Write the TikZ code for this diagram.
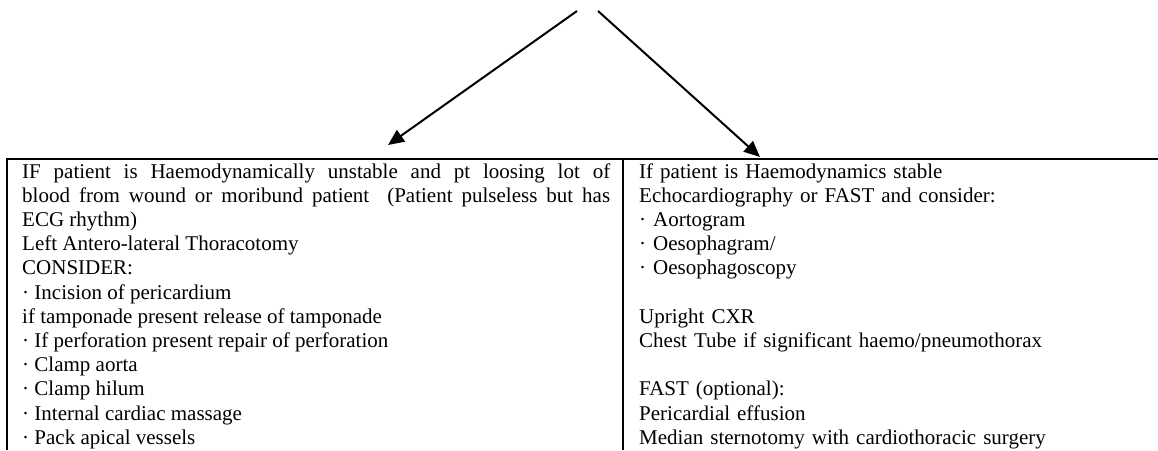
\documentclass[tikz,border=0pt]{standalone}
\usepackage{fontspec}
\setmainfont{Liberation Serif}
\usetikzlibrary{arrows.meta}
\tikzset{
  frame/.style={line width=2pt},
  divider/.style={line width=1.6pt},
  flowarrow/.style={line width=2pt,-{Triangle[length=16pt,width=14pt]}},
  coltext/.style={anchor=base west,inner sep=0pt,font=\fontsize{21}{24.2}\selectfont}
}
\begin{document}
\begin{tikzpicture}[x=1pt,y=-1pt]
\useasboundingbox (0,0) rectangle (1158,450);
% arrows
\coordinate (s1) at (577,11);
\coordinate (t1) at (388,145);
\coordinate (s2) at (598,11);
\coordinate (t2) at (760,157);
\draw[flowarrow] (s1) -- (t1);
\draw[flowarrow] (s2) -- (t2);
% table frame
\coordinate (tl) at (7,159);
\coordinate (tr) at (1158,159);
\coordinate (bl) at (7,450);
\coordinate (dt) at (623,159);
\coordinate (db) at (623,450);
\draw[frame] (tr) -- (tl) -- (bl);
\draw[divider] (dt) -- (db);
% left column
\node[coltext,text width=588pt,align=justify] (left) at (22,178) {%
IF patient is Haemodynamically unstable and pt loosing lot of\linebreak
blood from wound or moribund patient \ (Patient pulseless but has\linebreak
ECG rhythm)\\
Left Antero-lateral Thoracotomy\\
CONSIDER:\\
· Incision of pericardium\\
if tamponade present release of tamponade\\
· If perforation present repair of perforation\\
· Clamp aorta\\
· Clamp hilum\\
· Internal cardiac massage\\
· Pack apical vessels};
% right column
\node[coltext,text width=510pt] (right) at (639,178) {%
If patient is Haemodynamics stable\\
Echocardiography or FAST and consider:\\
· Aortogram\\
· Oesophagram/\\
· Oesophagoscopy\\[24.2pt]
Upright CXR\\
Chest Tube if significant haemo/pneumothorax\\[24.2pt]
FAST (optional):\\
Pericardial effusion\\
Median sternotomy with cardiothoracic surgery};
\end{tikzpicture}
\end{document}
